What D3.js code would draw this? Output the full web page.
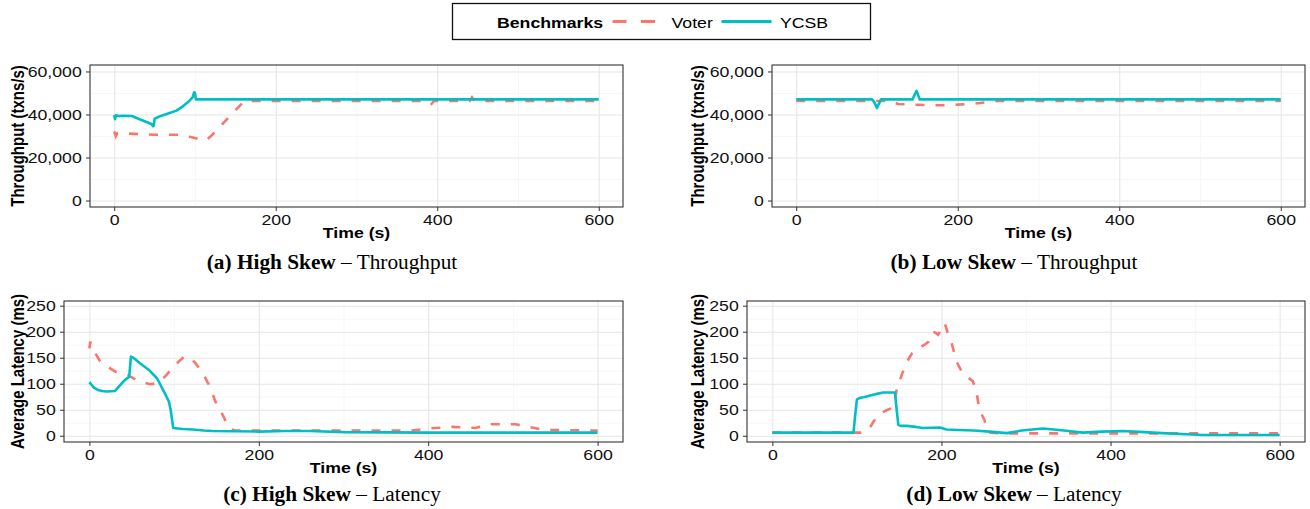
<!DOCTYPE html>
<html>
<head>
<meta charset="utf-8">
<script src="https://cdn.jsdelivr.net/npm/d3@7"></script>
<style>
  body { margin: 0; background: #fff; }
  svg { display: block; }
  .grid-major line { stroke: #e6e6e6; stroke-width: 1.1; }
  .grid-minor line { stroke: #f3f3f3; stroke-width: 0.7; }
  .axis path { display: none; }
  .axis line { stroke: #333; }
  .axis text { font-family: "Liberation Sans", Arial, sans-serif; font-size: 15px; fill: #111; }
</style>
</head>
<body>
<div id="chart"></div>
<script>
// Benchmarks and colours
const benchmarks = ["Voter", "YCSB"];
const colors = { Voter: "#F8766D", YCSB: "#00BFC4" };

// Tick values
const timeTicks = [0, 200, 400, 600];
const timeMinor = [100, 300, 500];
const throughputTicks = [0, 20000, 40000, 60000];
const throughputMinor = [10000, 30000, 50000];
const latencyTicks = [0, 50, 100, 150, 200, 250];
const latencyMinor = [25, 75, 125, 175, 225];

// (a) High skew - throughput, [time, txns/s]
const highThrVoter = [[0,32100],[2,29900],[4,31300],[25,31000],[50,30600],[80,30600],[95,29500],[105,28600],[113,27900],[120,30000],[140,38000],[161,46300],[200,46300],[390,46300],[393,45000],[396,46300],[440,46300],[443,48000],[446,46300],[600,46300]];
const highThrYcsb = [[0,39800],[1,37800],[2,39600],[5,39300],[10,39400],[22,39300],[30,38000],[40,36500],[46,35600],[48,34600],[49,35000],[50,38000],[55,38900],[65,40200],[77,41800],[85,43800],[93,46300],[97,48000],[99,50300],[100,50000],[101,47000],[110,47000],[600,47000]];

// (b) Low skew - throughput
const lowThrVoter = [[0,46300],[118,46300],[122,45500],[126,44900],[140,44600],[160,44400],[180,44300],[200,44600],[220,45000],[243,46000],[250,46300],[600,46300]];
const lowThrYcsb = [[0,47000],[94,47000],[97,45500],[100,43000],[103,45500],[105,47000],[144,47000],[147,49500],[149,51000],[151,49000],[153,47000],[600,47000]];

// (c) High skew - latency, [time, ms]
const highLatVoter = [[0,168],[1,181],[3,170],[13,142],[22,132],[31,123],[45,117],[59,104],[72,99],[80,101],[90,115],[98,130],[105,142],[112,152],[118,151],[125,140],[134,120],[142,95],[149,65],[158,38],[165,14],[172,10],[200,10],[300,10],[380,10],[400,14],[428,17],[456,15],[471,22],[503,22],[519,17],[538,11],[600,10]];
const highLatYcsb = [[0,103],[2,99],[5,93],[10,88],[15,86],[20,85],[30,86],[35,95],[40,104],[44,110],[47,113],[49,152],[52,150],[60,139],[70,127],[80,110],[88,85],[94,65],[96,49],[99,15],[110,13],[122,12],[135,10],[145,9],[200,8],[230,9],[260,9],[300,7],[400,6],[500,6],[600,6]];

// (d) Low skew - latency
const lowLatVoter = [[0,6],[104,6],[110,8],[114,12],[120,28],[125,40],[135,49],[141,53],[145,70],[147,88],[153,117],[159,142],[165,158],[173,168],[180,175],[185,181],[190,200],[193,198],[196,194],[200,205],[204,216],[207,200],[210,190],[218,142],[226,117],[233,110],[237,105],[241,88],[245,49],[251,30],[253,11],[258,6],[270,4.5],[600,4.5]];
const lowLatYcsb = [[0,6],[96,6],[98,40],[100,70],[104,73],[108,74],[117,78],[125,81],[131,83],[145,83],[147,50],[149,21],[152,19],[159,19],[170,17],[178,15],[198,16],[206,12],[220,11],[238,10],[257,8],[277,5],[295,10],[320,14],[345,10],[367,6],[390,8],[414,9],[440,7],[461,5],[490,3],[509,1.5],[600,1.5]];

// Caption text
const captions = [
    ["(a) High Skew", " – Throughput"],
    ["(b) Low Skew", " – Throughput"],
    ["(c) High Skew", " – Latency"],
    ["(d) Low Skew", " – Latency"],
];

// The original figure is stretched sideways, so text gets the same stretch
const SX = 1.18;

const svg = d3.select("#chart")
    .append("svg")
    .attr("width", 1310)
    .attr("height", 509);

const panels = [
    { box: [90, 623, 65, 207], yDomain: [-3000, 63000], yTicks: throughputTicks, yMinor: throughputMinor, fmt: d3.format(","), yTitle: "Throughput (txns/s)", titleX: 23.5, voter: highThrVoter, ycsb: highThrYcsb, cap: captions[0], capX: 332, capY: 269 },
    { box: [772, 1305, 65, 207], yDomain: [-3000, 63000], yTicks: throughputTicks, yMinor: throughputMinor, fmt: d3.format(","), yTitle: "Throughput (txns/s)", titleX: 703.5, voter: lowThrVoter, ycsb: lowThrYcsb, cap: captions[1], capX: 1014, capY: 269 },
    { box: [64, 623, 301, 442], yDomain: [-12, 259], yTicks: latencyTicks, yMinor: latencyMinor, fmt: d3.format("d"), yTitle: "Average Latency (ms)", titleX: 23.5, voter: highLatVoter, ycsb: highLatYcsb, cap: captions[2], capX: 332, capY: 501 },
    { box: [747, 1305, 301, 442], yDomain: [-12, 259], yTicks: latencyTicks, yMinor: latencyMinor, fmt: d3.format("d"), yTitle: "Average Latency (ms)", titleX: 703.5, voter: lowLatVoter, ycsb: lowLatYcsb, cap: captions[3], capX: 1014, capY: 501 },
];

panels.forEach(function (p) {
    const [left, right, top, bottom] = p.box;
    const x = d3.scaleLinear().domain([-30, 630]).range([left, right]);
    const y = d3.scaleLinear().domain(p.yDomain).range([bottom, top]);
    const w = right - left;
    const h = bottom - top;

    // minor then major grid lines
    svg.append("g").attr("class", "grid-minor")
        .attr("transform", `translate(0,${bottom})`)
        .call(d3.axisBottom(x).tickValues(timeMinor).tickSize(-h).tickFormat(""))
        .call(g => g.select(".domain").remove());
    svg.append("g").attr("class", "grid-minor")
        .attr("transform", `translate(${left},0)`)
        .call(d3.axisLeft(y).tickValues(p.yMinor).tickSize(-w).tickFormat(""))
        .call(g => g.select(".domain").remove());
    svg.append("g").attr("class", "grid-major")
        .attr("transform", `translate(0,${bottom})`)
        .call(d3.axisBottom(x).tickValues(timeTicks).tickSize(-h).tickFormat(""))
        .call(g => g.select(".domain").remove());
    svg.append("g").attr("class", "grid-major")
        .attr("transform", `translate(${left},0)`)
        .call(d3.axisLeft(y).tickValues(p.yTicks).tickSize(-w).tickFormat(""))
        .call(g => g.select(".domain").remove());

    // lines
    const line = d3.line().x(d => x(d[0])).y(d => y(d[1]));
    svg.append("path")
        .datum(p.voter)
        .attr("d", line)
        .attr("fill", "none")
        .attr("stroke", colors.Voter)
        .attr("stroke-width", 2.6)
        .attr("stroke-dasharray", "9 11");
    svg.append("path")
        .datum(p.ycsb)
        .attr("d", line)
        .attr("fill", "none")
        .attr("stroke", colors.YCSB)
        .attr("stroke-width", 2.6)
        .attr("stroke-linejoin", "round");

    // panel border
    svg.append("rect")
        .attr("x", left).attr("y", top)
        .attr("width", w).attr("height", h)
        .attr("fill", "none")
        .attr("stroke", "#333")
        .attr("stroke-width", 1.1);

    // axes
    svg.append("g").attr("class", "axis")
        .attr("transform", `translate(0,${bottom})`)
        .call(d3.axisBottom(x).tickValues(timeTicks).tickSize(4).tickPadding(3))
        .selectAll("text").attr("transform", `scale(${SX},1)`);
    svg.append("g").attr("class", "axis")
        .attr("transform", `translate(${left},0)`)
        .call(d3.axisLeft(y).tickValues(p.yTicks).tickFormat(p.fmt).tickSize(4).tickPadding(3))
        .selectAll("text").attr("transform", `scale(${SX},1)`);

    // axis titles
    svg.append("text")
        .attr("transform", `translate(${(left + right) / 2},${bottom + 31}) scale(${SX},1)`)
        .attr("text-anchor", "middle")
        .style("font-family", "Liberation Sans, Arial, sans-serif")
        .style("font-size", "15px")
        .style("font-weight", "bold")
        .text("Time (s)");
    svg.append("text")
        .attr("transform", `translate(${p.titleX},${(top + bottom) / 2}) scale(${SX},1) rotate(-90)`)
        .attr("text-anchor", "middle")
        .style("font-family", "Liberation Sans, Arial, sans-serif")
        .style("font-size", "15px")
        .style("font-weight", "bold")
        .text(p.yTitle);

    // caption
    const cap = svg.append("text")
        .attr("x", p.capX).attr("y", p.capY)
        .attr("text-anchor", "middle")
        .style("font-family", "Liberation Serif, Times New Roman, serif")
        .style("font-size", "21.3px");
    cap.append("tspan").style("font-weight", "bold").text(p.cap[0]);
    cap.append("tspan").text(p.cap[1]);
});

// Legend
const legend = svg.append("g");
legend.append("rect")
    .attr("x", 452.5).attr("y", 3.5)
    .attr("width", 418).attr("height", 36)
    .attr("fill", "#fff")
    .attr("stroke", "#111")
    .attr("stroke-width", 1.3);
legend.append("text")
    .attr("transform", `translate(497,27.5) scale(${SX},1)`)
    .style("font-family", "Liberation Sans, Arial, sans-serif")
    .style("font-size", "15px")
    .style("font-weight", "bold")
    .text("Benchmarks");
const keys = [
    { name: benchmarks[0], x1: 612.5, x2: 655.5, tx: 671.5, dash: "14 14.5" },
    { name: benchmarks[1], x1: 721.5, x2: 771.5, tx: 780, dash: null },
];
keys.forEach(function (k) {
    legend.append("line")
        .attr("x1", k.x1).attr("x2", k.x2)
        .attr("y1", 21.5).attr("y2", 21.5)
        .attr("stroke", colors[k.name])
        .attr("stroke-width", 3.2)
        .attr("stroke-dasharray", k.dash);
    legend.append("text")
        .attr("transform", `translate(${k.tx},27.5) scale(${SX},1)`)
        .style("font-family", "Liberation Sans, Arial, sans-serif")
        .style("font-size", "15px")
        .text(k.name);
});
</script>
</body>
</html>
